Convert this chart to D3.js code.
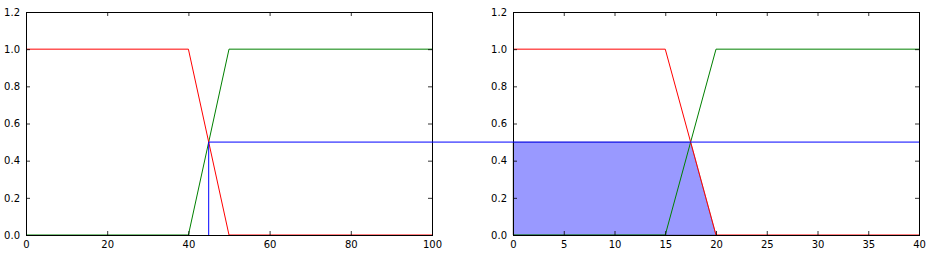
<!DOCTYPE html>
<html>
<head>
<meta charset="utf-8">
<script src="https://cdn.jsdelivr.net/npm/d3@7"></script>
<style>
body { margin: 0; background: #fff; }
svg { display: block; }
text { font-family: "DejaVu Sans", sans-serif; font-size: 10px; fill: #000; }
</style>
</head>
<body>
<div id="chart"></div>
<script>
var width = 931
var height = 256

// left panel data
var leftX = [0, 40, 50, 100]
var leftRed = [1, 1, 0, 0]
var leftGreen = [0, 0, 1, 1]
var leftTicks = [0, 20, 40, 60, 80, 100]

// right panel data
var rightX = [0, 15, 20, 40]
var rightRed = [1, 1, 0, 0]
var rightGreen = [0, 0, 1, 1]
var rightTicks = [0, 5, 10, 15, 20, 25, 30, 35, 40]

// filled area under min(cut, red)
var fillX = [0, 17.5, 20]
var fillTop = [0.5, 0.5, 0]

// cut level and the point it comes from
var cutX = 45
var cutY = 0.5

var yTicks = [0, 0.2, 0.4, 0.6, 0.8, 1.0, 1.2]

var plotTop = 12, plotBottom = 235
var panels = [
    { x0: 26, x1: 432, dom: [0, 100], xs: leftX, red: leftRed, green: leftGreen, ticks: leftTicks },
    { x0: 513, x1: 919, dom: [0, 40], xs: rightX, red: rightRed, green: rightGreen, ticks: rightTicks }
]

var svg = d3.select('#chart')
    .append('svg')
    .attr('width', width)
    .attr('height', height)

var y = d3.scaleLinear().domain([0, 1.2]).range([plotBottom, plotTop])

panels.forEach(function (p) {
    p.x = d3.scaleLinear().domain(p.dom).range([p.x0, p.x1])
})

function drawPanel(p, i) {
    var g = svg.append('g')
    var line = d3.line().x(function (d) { return p.x(d[0]) }).y(function (d) { return y(d[1]) })

    if (i == 1) {
        var pts = fillX.map(function (v, k) { return [v, fillTop[k]] })
        var area = d3.area()
            .x(function (d) { return p.x(d[0]) })
            .y0(y(0))
            .y1(function (d) { return y(d[1]) })
        g.append('path')
            .attr('d', area(pts))
            .attr('fill', 'rgba(0,0,255,0.4)')
            .attr('stroke', 'rgba(0,0,0,0.3)')
            .attr('stroke-width', 1)
    }

    g.append('path')
        .attr('d', line(p.xs.map(function (v, k) { return [v, p.green[k]] })))
        .attr('fill', 'none')
        .attr('stroke', '#008000')
        .attr('stroke-width', 1)
    g.append('path')
        .attr('d', line(p.xs.map(function (v, k) { return [v, p.red[k]] })))
        .attr('fill', 'none')
        .attr('stroke', '#ff0000')
        .attr('stroke-width', 1)

    // ticks, pointing inward on all sides
    var bx = d3.axisBottom(p.x).tickValues(p.ticks).tickSize(-4).tickPadding(6).tickFormat(d3.format('d'))
    var tx = d3.axisTop(p.x).tickValues(p.ticks).tickSize(-4).tickFormat('')
    var ly = d3.axisLeft(y).tickValues(yTicks).tickSize(-4).tickPadding(6).tickFormat(d3.format('.1f'))
    var ry = d3.axisRight(y).tickValues(yTicks).tickSize(-4).tickFormat('')

    var axes = [
        g.append('g').attr('transform', 'translate(0,' + plotBottom + ')').call(bx),
        g.append('g').attr('transform', 'translate(0,' + plotTop + ')').call(tx),
        g.append('g').attr('transform', 'translate(' + p.x0 + ',0)').call(ly),
        g.append('g').attr('transform', 'translate(' + p.x1 + ',0)').call(ry)
    ]
    axes.forEach(function (a) {
        a.select('.domain').remove()
        a.attr('font-family', null).attr('font-size', null)
        a.selectAll('line').attr('stroke', '#000').attr('stroke-width', 0.8)
    })

    g.append('rect')
        .attr('x', p.x0 + 0.5)
        .attr('y', plotTop + 0.5)
        .attr('width', p.x1 - p.x0)
        .attr('height', plotBottom - plotTop)
        .attr('fill', 'none')
        .attr('stroke', '#000')
        .attr('stroke-width', 1)
}

panels.forEach(drawPanel)

// cut line going from the left panel across to the right edge of the right panel
var L = panels[0], R = panels[1]
svg.append('path')
    .attr('d', 'M' + L.x(cutX) + ',' + y(0) + 'L' + L.x(cutX) + ',' + y(cutY) + 'L' + R.x(R.dom[1]) + ',' + y(cutY))
    .attr('fill', 'none')
    .attr('stroke', '#0000ff')
    .attr('stroke-width', 1)
</script>
</body>
</html>
